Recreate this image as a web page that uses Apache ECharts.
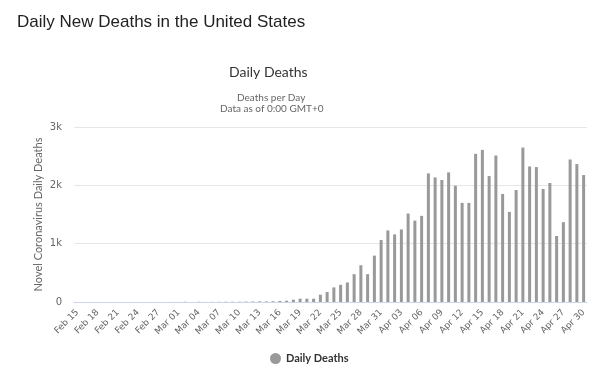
<!DOCTYPE html>
<html><head><meta charset="utf-8">
<script src="https://cdn.jsdelivr.net/npm/echarts@6/dist/echarts.min.js"></script>
<style>html,body{margin:0;padding:0;background:#fff}#c{width:600px;height:373px}</style>
</head><body><div id="c"></div>
<script>
var dates = [
 "Feb 15","Feb 16","Feb 17","Feb 18","Feb 19","Feb 20","Feb 21","Feb 22","Feb 23","Feb 24","Feb 25","Feb 26","Feb 27","Feb 28","Feb 29",
 "Mar 01","Mar 02","Mar 03","Mar 04","Mar 05","Mar 06","Mar 07","Mar 08","Mar 09","Mar 10","Mar 11","Mar 12","Mar 13","Mar 14","Mar 15","Mar 16",
 "Mar 17","Mar 18","Mar 19","Mar 20","Mar 21","Mar 22","Mar 23","Mar 24","Mar 25","Mar 26","Mar 27","Mar 28","Mar 29","Mar 30","Mar 31",
 "Apr 01","Apr 02","Apr 03","Apr 04","Apr 05","Apr 06","Apr 07","Apr 08","Apr 09","Apr 10","Apr 11","Apr 12","Apr 13","Apr 14","Apr 15",
 "Apr 16","Apr 17","Apr 18","Apr 19","Apr 20","Apr 21","Apr 22","Apr 23","Apr 24","Apr 25","Apr 26","Apr 27","Apr 28","Apr 29","Apr 30"
];
var dailyDeaths = [
 0,0,0,0,0,0,0,0,0,0,0,0,0,0,1,
 1,4,1,4,1,2,3,4,4,5,7,8,11,10,12,18,
 22,40,57,57,57,125,170,250,295,335,477,630,477,795,1062,
 1227,1159,1244,1517,1395,1477,2205,2136,2091,2222,1994,1699,1699,2540,2608,
 2159,2511,1852,1545,1920,2648,2324,2313,1938,2040,1131,1369,2443,2364,2176
];
var yTicks = {0:"0",1000:"1k",2000:"2k",3000:"3k"};

var chart = echarts.init(document.getElementById('c'), null, {renderer:'canvas'});
chart.setOption({
  animation:false,
  title:[
    {text:"Daily New Deaths in the United States", left:12, top:9,
     textStyle:{fontFamily:"Liberation Sans, Arial", fontSize:17, fontWeight:"normal", color:"#222"}},
    {text:"Daily Deaths", left:224, top:60,
     textStyle:{fontFamily:"Lato", fontSize:14, fontWeight:"normal", color:"#333"}},
    {text:"Deaths per Day", left:232, top:88,
     textStyle:{fontFamily:"Lato", fontSize:10, fontWeight:"normal", color:"#666"}},
    {text:"Data as of 0:00 GMT+0", left:215, top:99,
     textStyle:{fontFamily:"Lato", fontSize:10, fontWeight:"normal", color:"#666"}}
  ],
  legend:{top:348, left:265, icon:"circle", itemWidth:11, itemHeight:11, itemGap:5,
    textStyle:{fontFamily:"Lato", fontSize:11, fontWeight:"bold", color:"#333"},
    data:["Daily Deaths"]},
  grid:{left:74, right:13, top:127, bottom:71},
  xAxis:{type:"category", data:dates,
    axisLine:{lineStyle:{color:"#ccd6eb"}},
    axisTick:{show:false},
    axisLabel:{interval:2, rotate:45, color:"#666", fontFamily:"DejaVu Sans", fontSize:9, margin:9}},
  yAxis:{type:"value", min:0, max:3000, interval:1000,
    name:"Novel Coronavirus Daily Deaths", nameLocation:"middle", nameGap:30, nameMoveOverlap:false,
    nameTextStyle:{fontFamily:"Lato", fontSize:11, color:"#666"},
    axisLine:{show:false}, axisTick:{show:false},
    splitLine:{lineStyle:{color:"#e6e6e6"}},
    axisLabel:{color:"#666", fontFamily:"DejaVu Sans", fontSize:10, margin:12,
      formatter:function(v){return yTicks[v]!==undefined?yTicks[v]:v;}}},
  series:[{name:"Daily Deaths", type:"bar", data:dailyDeaths, barWidth:3,
    itemStyle:{color:"#999"}}]
});
</script></body></html>
